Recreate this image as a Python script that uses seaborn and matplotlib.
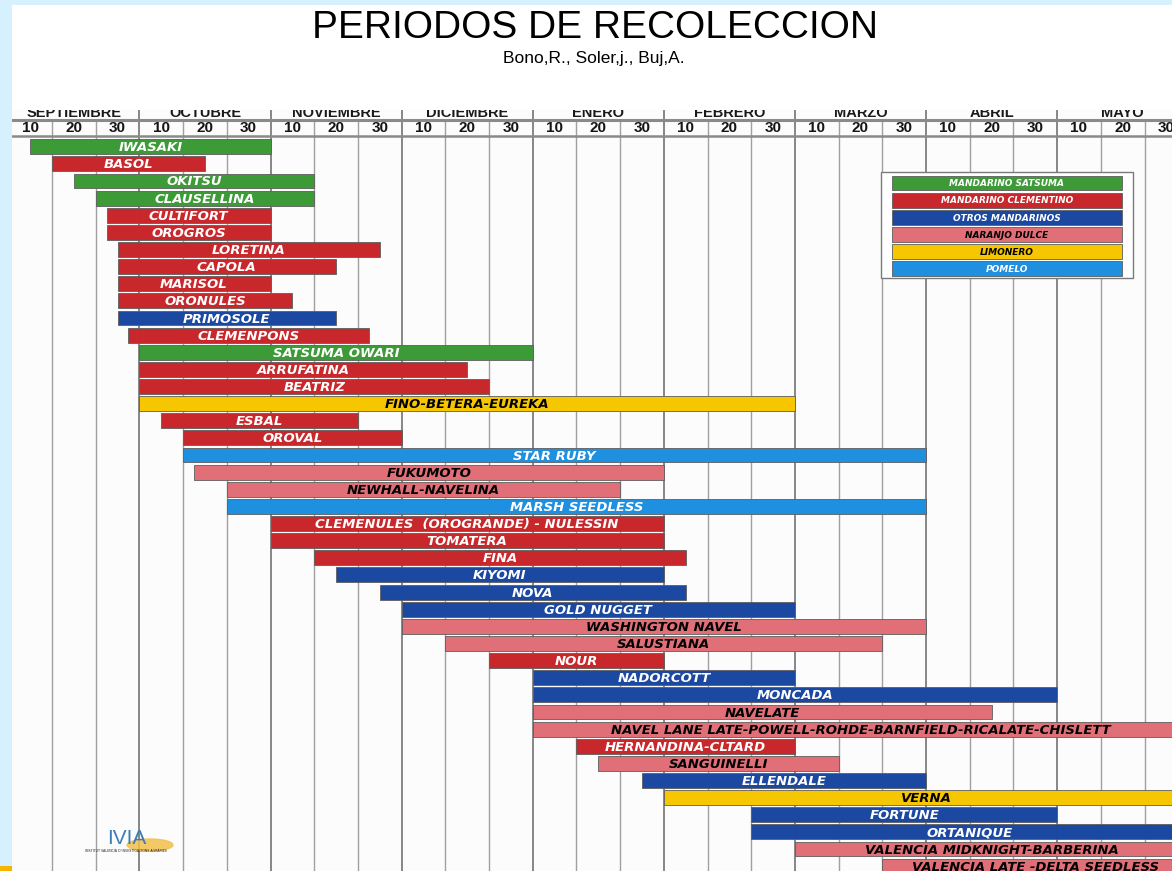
import numpy as np
import pandas as pd
import matplotlib
matplotlib.use("Agg")
import matplotlib.pyplot as plt
from matplotlib.patches import Rectangle, Ellipse
import seaborn as sns

# periods in decades counted from 1 September (0 = 1 Sep, 3 = 1 Oct, ...)
variedades = [
    "IWASAKI", "BASOL", "OKITSU", "CLAUSELLINA", "CULTIFORT", "OROGROS",
    "LORETINA", "CAPOLA", "MARISOL", "ORONULES", "PRIMOSOLE", "CLEMENPONS",
    "SATSUMA OWARI", "ARRUFATINA", "BEATRIZ", "FINO-BETERA-EUREKA", "ESBAL",
    "OROVAL", "STAR RUBY", "FUKUMOTO", "NEWHALL-NAVELINA", "MARSH SEEDLESS",
    "CLEMENULES  (OROGRANDE) - NULESSIN", "TOMATERA", "FINA", "KIYOMI", "NOVA",
    "GOLD NUGGET", "WASHINGTON NAVEL", "SALUSTIANA", "NOUR", "NADORCOTT",
    "MONCADA", "NAVELATE",
    "NAVEL LANE LATE-POWELL-ROHDE-BARNFIELD-RICALATE-CHISLETT",
    "HERNANDINA-CLTARD", "SANGUINELLI", "ELLENDALE", "VERNA", "FORTUNE",
    "ORTANIQUE", "VALENCIA MIDKNIGHT-BARBERINA", "VALENCIA LATE -DELTA SEEDLESS",
]
grupo = [
    "S", "C", "S", "S", "C", "C",
    "C", "C", "C", "C", "O", "C",
    "S", "C", "C", "L", "C",
    "C", "P", "N", "N", "P",
    "C", "C", "C", "O", "O",
    "O", "N", "N", "C", "O",
    "O", "N",
    "N",
    "C", "N", "O", "L", "O",
    "O", "N", "N",
]
inicio = [
    0.5, 1.0, 1.5, 2.0, 2.25, 2.25,
    2.5, 2.5, 2.5, 2.5, 2.5, 2.75,
    3.0, 3.0, 3.0, 3.0, 3.5,
    4.0, 4.0, 4.25, 5.0, 5.0,
    6.0, 6.0, 7.0, 7.5, 8.5,
    9.0, 9.0, 10.0, 11.0, 12.0,
    12.0, 12.0,
    12.0,
    13.0, 13.5, 14.5, 15.0, 17.0,
    17.0, 18.0, 20.0,
]
fin = [
    6.0, 4.5, 7.0, 7.0, 6.0, 6.0,
    8.5, 7.5, 6.0, 6.5, 7.5, 8.25,
    12.0, 10.5, 11.0, 18.0, 8.0,
    9.0, 21.0, 15.0, 14.0, 21.0,
    15.0, 15.0, 15.5, 15.0, 15.5,
    18.0, 21.0, 20.0, 15.0, 18.0,
    24.0, 22.5,
    27.0,
    18.0, 19.0, 21.0, 27.0, 24.0,
    27.0, 27.0, 27.0,
]

meses = ["SEPTIEMBRE", "OCTUBRE", "NOVIEMBRE", "DICIEMBRE", "ENERO",
         "FEBRERO", "MARZO", "ABRIL", "MAYO"]
decenas = ["10", "20", "30"]

grupos = ["S", "C", "O", "N", "L", "P"]
grupo_nombre = ["MANDARINO SATSUMA", "MANDARINO CLEMENTINO", "OTROS MANDARINOS",
                "NARANJO DULCE", "LIMONERO", "POMELO"]
colores = {"S": "#3c9b36", "C": "#c8282b", "O": "#1b48a0",
           "N": "#e06f77", "L": "#f6c700", "P": "#1f8fe0"}
texto_color = {"S": "white", "C": "white", "O": "white",
               "N": "black", "L": "black", "P": "white"}

df = pd.DataFrame({"variedad": variedades, "grupo": grupo,
                   "inicio": inicio, "fin": fin})
df["duracion"] = df["fin"] - df["inicio"]
df["fila"] = np.arange(len(df))

sns.set_theme(style="white")
plt.rcParams["font.family"] = ["DejaVu Sans"]

W, H = 1172, 871
fig = plt.figure(figsize=(W / 100, H / 100), dpi=100)
fig.patch.set_facecolor("white")

# axes: x in decades, y in rows (row pitch ~17.13 px)
x0, dec_px = 8.3, 43.7
row0, row_px = 146.7, 17.13
top_px = 109.5
ax = fig.add_axes([x0 / W, 0, 27 * dec_px / W, (H - top_px) / H])
ax.set_facecolor("#fcfcfc")

for g in grupos:
    sub = df[df["grupo"] == g].sort_values("fila")
    sns.barplot(data=sub, x="duracion", y="variedad", order=variedades,
                left=sub["inicio"].to_numpy(), orient="y", color=colores[g],
                saturation=1, width=0.87, errorbar=None, edgecolor="#5e5e5e",
                linewidth=0.6, zorder=2, ax=ax)

for _, r in df.iterrows():
    ax.text((r["inicio"] + r["fin"]) / 2, r["fila"] + 0.06, r["variedad"],
            ha="center", va="center", fontsize=9.5, fontweight="bold",
            fontstyle="italic", color=texto_color[r["grupo"]], zorder=3)

y_top = (top_px - row0) / row_px
y_bot = (H - row0) / row_px
y_line1 = (120.3 - row0) / row_px
y_line2 = (135.5 - row0) / row_px

# grid lines
for k in range(1, 27):
    if k % 3 == 0:
        ax.vlines(k, y_top, y_bot, color="#7d7d7d", lw=1.3, zorder=1)
    else:
        ax.vlines(k, y_line1, y_bot, color="#a0a0a0", lw=1.0, zorder=1)
ax.axhline(y_line1, color="#8a8a8a", lw=2.2, zorder=1)
ax.axhline(y_line2, color="#8a8a8a", lw=1.8, zorder=1)

# header labels
for j in range(27):
    ax.text(j + 0.5, (127.5 - row0) / row_px, decenas[j % 3], ha="center",
            va="center", fontsize=11, fontweight="bold", color="#151515",
            family="Liberation Sans", clip_on=True)
for m, mes in enumerate(meses):
    ax.text(3 * m + 1.5, (112.5 - row0) / row_px, mes, ha="center",
            va="center", fontsize=10.5, fontweight="bold", color="#1a1a1a",
            family="Liberation Sans", clip_on=True)

# legend box
lx0, lx1 = (881 - x0) / dec_px, (1133 - x0) / dec_px
ly0, ly1 = (171.7 - row0) / row_px, (278 - row0) / row_px
ax.add_patch(Rectangle((lx0, ly0), lx1 - lx0, ly1 - ly0, facecolor="white",
                       edgecolor="#7a7a7a", lw=1.0, zorder=3))
bx0, bx1 = (891.5 - x0) / dec_px, (1122 - x0) / dec_px
for k, (g, nombre) in enumerate(zip(grupos, grupo_nombre)):
    yy = (183 - row0) / row_px + k
    ax.barh(yy, bx1 - bx0, left=bx0, height=0.87, color=colores[g],
            edgecolor="#5e5e5e", linewidth=0.6, zorder=4)
    ax.text((bx0 + bx1) / 2, yy + 0.05, nombre, ha="center", va="center",
            fontsize=6.5, fontweight="bold", fontstyle="italic",
            color=texto_color[g], zorder=5)

# IVIA logo
ax.add_patch(Ellipse(((150 - x0) / dec_px, (845 - row0) / row_px), 1.05, 0.7,
                     color="#f3c04a", alpha=0.85, zorder=1.5))
ax.text((127 - x0) / dec_px, (838 - row0) / row_px, "IVIA", ha="center",
        va="center", fontsize=15, color="#3d7db5", family="Liberation Sans",
        zorder=1.6)
ax.text((126 - x0) / dec_px, (851 - row0) / row_px,
        "INSTITUT VALENCIÀ D'INVESTIGACIONS AGRÀRIES", ha="center",
        va="center", fontsize=2.3, color="#222222", zorder=1.6)

ax.set_xlim(0, 27)
ax.set_ylim(y_bot, y_top)
ax.set_xticks([])
ax.set_yticks([])
ax.set_xlabel("")
ax.set_ylabel("")
for s in ax.spines.values():
    s.set_visible(False)

# page title
fig.text(595 / W, 1 - 27.5 / H, "PERIODOS DE RECOLECCION", ha="center",
         va="center", fontsize=28, family="Liberation Sans", color="black")
fig.text(594 / W, 1 - 59 / H, "Bono,R., Soler,j., Buj,A.", ha="center",
         va="center", fontsize=12.5, family="Liberation Sans", color="black")

# light blue page border strips
fig.add_artist(Rectangle((0, 0), 12 / W, 1, transform=fig.transFigure,
                         facecolor="#d6f0fd", edgecolor="none", zorder=10))
fig.add_artist(Rectangle((0, 1 - 5 / H), 1, 5 / H, transform=fig.transFigure,
                         facecolor="#d6f0fd", edgecolor="none", zorder=10))
fig.add_artist(Rectangle((0, 0), 12 / W, 5 / H, transform=fig.transFigure,
                         facecolor="#f4b400", edgecolor="none", zorder=11))

fig.savefig("out.png", dpi=100, facecolor=fig.get_facecolor())
